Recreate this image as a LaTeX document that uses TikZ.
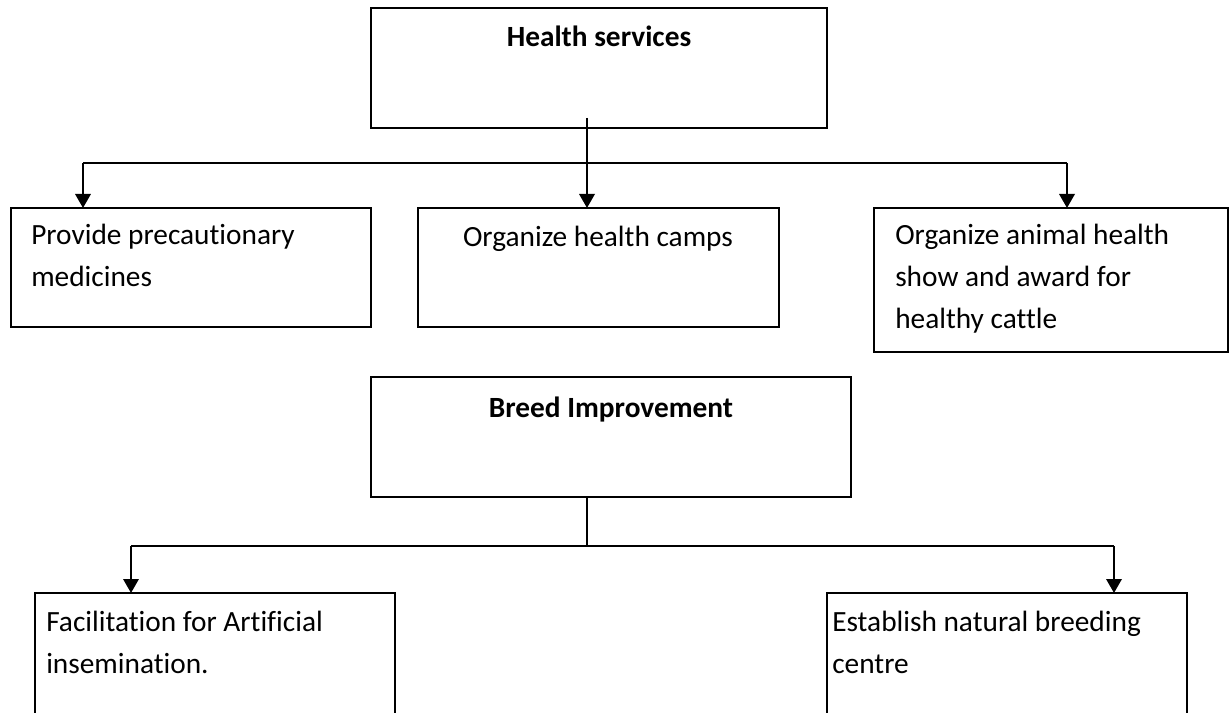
\documentclass[tikz,border=0pt]{standalone}
\usepackage{fontspec}
\setmainfont{Carlito}[Ligatures={NoCommon}]
\usetikzlibrary{arrows.meta}
\newcommand\boxlines[1]{\parbox[t]{330pt}{\raggedright #1}}
\tikzset{
  box/.style={draw, line width=2pt, rectangle, inner sep=0pt, outer sep=0pt, anchor=north west},
  lbl/.style={inner sep=0pt, anchor=base west, font=\fontsize{22pt}{31.5pt}\selectfont},
  clbl/.style={inner sep=0pt, anchor=base, font=\fontsize{22pt}{31.5pt}\selectfont},
  conn/.style={line width=1.8pt},
  arr/.style={conn, -{Triangle[width=11.5pt,length=10.5pt]}},
}
\begin{document}
\begin{tikzpicture}[x=0.75pt,y=-0.75pt]
\clip (0,0) rectangle (1229,713);
\fill[white] (0,0) rectangle (1229,713);
% boxes
\node[box, minimum width=342pt, minimum height=90pt] (hs) at (371,8) {};
\node[box, minimum width=270pt, minimum height=89.25pt] (pm) at (11,208) {};
\node[box, minimum width=270.75pt, minimum height=89.25pt] (oc) at (418,208) {};
\node[box, minimum width=265.5pt, minimum height=108pt] (oa) at (874,208) {};
\node[box, minimum width=360pt, minimum height=90pt] (bi) at (371,377) {};
\node[box, minimum width=270pt, minimum height=112.5pt] (fa) at (35,593) {};
\node[box, minimum width=270pt, minimum height=112.5pt] (en) at (827,593) {};
% labels
\node[clbl, font=\fontsize{22pt}{31.5pt}\selectfont\bfseries] (hst) at (599,47) {Health services};
\node[lbl] (pmt) at (31,245) {\boxlines{Provide precautionary\\medicines}};
\node[clbl] (oct) at (598,247) {Organize health camps};
\node[lbl] (oat) at (895,245) {\boxlines{Organize animal health\\show and award for\\healthy cattle}};
\node[clbl, font=\fontsize{22pt}{31.5pt}\selectfont\bfseries] (bit) at (611,417) {Breed Improvement};
\node[lbl] (fat) at (46,631) {\boxlines{Facilitation for Artificial\\insemination.}};
\node[lbl] (ent) at (832,631) {\boxlines{Establish natural breeding\\centre}};
% connectors (top)
\coordinate (t0) at (587,118);
\coordinate (a1) at (83,163);
\coordinate (a3) at (1067,163);
\draw[arr] (t0) -- (t0 |- oc.north);
\draw[conn] (a1) -- (a3);
\draw[arr] (a1) -- (a1 |- pm.north);
\draw[arr] (a3) -- (a3 |- oa.north);
% connectors (bottom)
\coordinate (b0) at (587,546);
\coordinate (b1) at (131,546);
\coordinate (b2) at (1114,546);
\draw[conn] (b0 |- bi.south) -- (b0);
\draw[conn] (b1) -- (b2);
\draw[arr] (b1) -- (b1 |- fa.north);
\draw[arr] (b2) -- (b2 |- en.north);
\end{tikzpicture}
\end{document}
